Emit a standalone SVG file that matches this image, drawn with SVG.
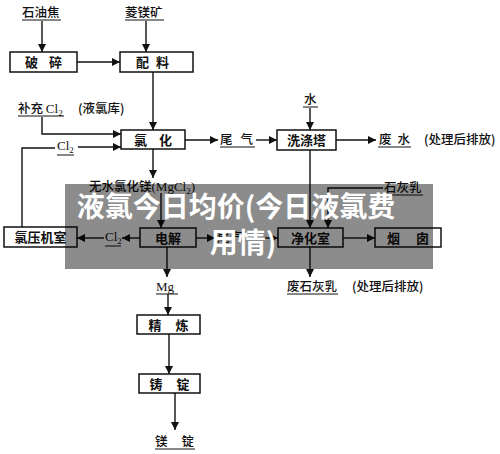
<svg xmlns="http://www.w3.org/2000/svg" width="500" height="454" viewBox="0 0 500 454">
<defs>
<marker id="ah" viewBox="0 0 10 10" refX="10" refY="5" markerWidth="9" markerHeight="8" markerUnits="userSpaceOnUse" orient="auto">
<path d="M0,0 L10,5 L0,10 z" fill="#111"/>
</marker>
<style>
.box{fill:#fff;stroke:#111;stroke-width:1.5}
.bt{font-family:"Noto Sans CJK SC","Noto Sans",sans-serif;font-size:13px;font-weight:bold;fill:#111;text-anchor:middle}
.lb{font-family:"Noto Sans CJK SC","Noto Sans",sans-serif;font-size:12.5px;font-weight:500;fill:#111}
.lat{font-family:"Liberation Serif",serif;font-size:13px;fill:#111}
.ul{stroke:#111;stroke-width:1}
.c{fill:none;stroke:#111;stroke-width:1.4}
.a{marker-end:url(#ah)}
.wm{font-family:"Noto Sans CJK SC",sans-serif;font-weight:bold;font-size:28px;fill:#fff;text-anchor:middle}
</style>
</defs>
<rect width="500" height="454" fill="#fff"/>

<g id="labels">
<text class="lb" x="22" y="17">石油焦</text><line class="ul" x1="22" y1="20" x2="61" y2="20"/>
<text class="lb" x="125" y="17">菱镁矿</text><line class="ul" x1="125" y1="20" x2="164" y2="20"/>
<text class="lb" x="18" y="113">补充 <tspan class="lat">Cl<tspan font-size="9" dy="3">2</tspan></tspan></text><line class="ul" x1="18" y1="116" x2="64" y2="116"/>
<text class="lb" x="78" y="113">(液氯库)</text>
<text class="lat" x="57" y="150">Cl<tspan font-size="9" dy="3">2</tspan></text><line class="ul" x1="57" y1="155" x2="74" y2="155"/>
<text class="lb" x="220" y="144" letter-spacing="8">尾气</text><line class="ul" x1="220" y1="147" x2="255" y2="147"/>
<text class="lb" x="304" y="104">水</text><line class="ul" x1="303" y1="107" x2="318" y2="107"/>
<text class="lb" x="379" y="144" letter-spacing="6">废水</text><line class="ul" x1="378" y1="147" x2="411" y2="147"/>
<text class="lb" x="424" y="144">(处理后排放)</text>
<text class="lb" x="89" y="191">无水氯化镁<tspan class="lat" font-size="12.5">(MgCl<tspan font-size="9" dy="3">2</tspan><tspan dy="-3">)</tspan></tspan></text>
<text class="lb" x="384" y="192">石灰乳</text><line class="ul" x1="384" y1="195" x2="423" y2="195"/>
<text class="lat" x="105" y="241">Cl<tspan font-size="9" dy="3">2</tspan></text><line class="ul" x1="105" y1="246" x2="121" y2="246"/>
<text class="lb" x="217" y="242">尾 气</text>
<text class="lb" x="287" y="291">废石灰乳</text><line class="ul" x1="287" y1="294" x2="338" y2="294"/>
<text class="lb" x="352" y="291">(处理后排放)</text>
<text class="lat" x="156" y="291" font-size="14">Mg</text><line class="ul" x1="156" y1="294" x2="178" y2="294"/>
<text class="lb" x="155" y="446" letter-spacing="14">镁锭</text><line class="ul" x1="155" y1="449" x2="195" y2="449"/>
</g>

<g id="connectors">
<path class="c a" d="M42,21 V52"/>
<path class="c a" d="M146,21 V52"/>
<path class="c a" d="M77,62 H120"/>
<path class="c a" d="M153,72 V130"/>
<path class="c a" d="M42,117 V134 H121"/>
<path class="c" d="M22,227 V148 H55"/>
<path class="c a" d="M78,147 H121"/>
<path class="c a" d="M185,140 H218"/>
<path class="c a" d="M256,140 H277"/>
<path class="c a" d="M310,108 V130"/>
<path class="c a" d="M336,140 H376"/>
<path class="c a" d="M310,150 V228"/>
<path class="c a" d="M383,188 H328 V228"/>
<path class="c a" d="M343,238 H375"/>
<path class="c a" d="M310,247 V277"/>
<path class="c a" d="M153,149 V178"/>
<path class="c a" d="M161,193 V228"/>
<path class="c a" d="M140,238 H122"/>
<path class="c a" d="M104,238 H77"/>
<path class="c a" d="M196,238 H215"/>
<path class="c a" d="M252,238 H278"/>
<path class="c a" d="M167,247 V277"/>
<path class="c a" d="M168,294 V315"/>
<path class="c a" d="M169,334 V374"/>
<path class="c a" d="M175,393 V430"/>
</g>

<g id="n-posui"><rect class="box" x="10" y="52" width="67" height="20"/><text class="bt" x="43.5" y="67" letter-spacing="11" dx="5.5">破碎</text></g>
<g id="n-peiliao"><rect class="box" x="120" y="52" width="73" height="20"/><text class="bt" x="152.5" y="67" letter-spacing="7" dx="3.5">配料</text></g>
<g id="n-lvhua"><rect class="box" x="121" y="130" width="64" height="19"/><text class="bt" x="153" y="144.5" letter-spacing="12" dx="6">氯化</text></g>
<g id="n-xidita"><rect class="box" x="277" y="130" width="59" height="20"/><text class="bt" x="306.5" y="145">洗涤塔</text></g>
<g id="n-lvyajishi"><rect class="box" x="4" y="227" width="73" height="20"/><text class="bt" x="40.5" y="242">氯压机室</text></g>
<g id="n-dianjie"><rect class="box" x="140" y="228" width="56" height="19"/><text class="bt" x="168" y="242.5">电解</text></g>
<g id="n-jinghuashi"><rect class="box" x="278" y="228" width="65" height="19"/><text class="bt" x="310.5" y="242.5">净化室</text></g>
<g id="n-yancong"><rect class="box" x="375" y="228" width="66" height="19"/><text class="bt" x="408" y="242.5" letter-spacing="16" dx="8">烟囱</text></g>
<g id="n-jinglian"><rect class="box" x="137" y="315" width="63" height="19"/><text class="bt" x="168.5" y="329.5" letter-spacing="14" dx="7">精炼</text></g>
<g id="n-zhuding"><rect class="box" x="139" y="374" width="61" height="19"/><text class="bt" x="169.5" y="388.5" letter-spacing="14" dx="7">铸锭</text></g>

<g id="watermark">
<rect x="65" y="184" width="368" height="85" fill="#000" fill-opacity="0.45"/>
<text class="wm" x="236" y="217">液氯今日均价(今日液氯费</text>
<text class="wm" x="243" y="253">用情)</text>
</g>
</svg>
